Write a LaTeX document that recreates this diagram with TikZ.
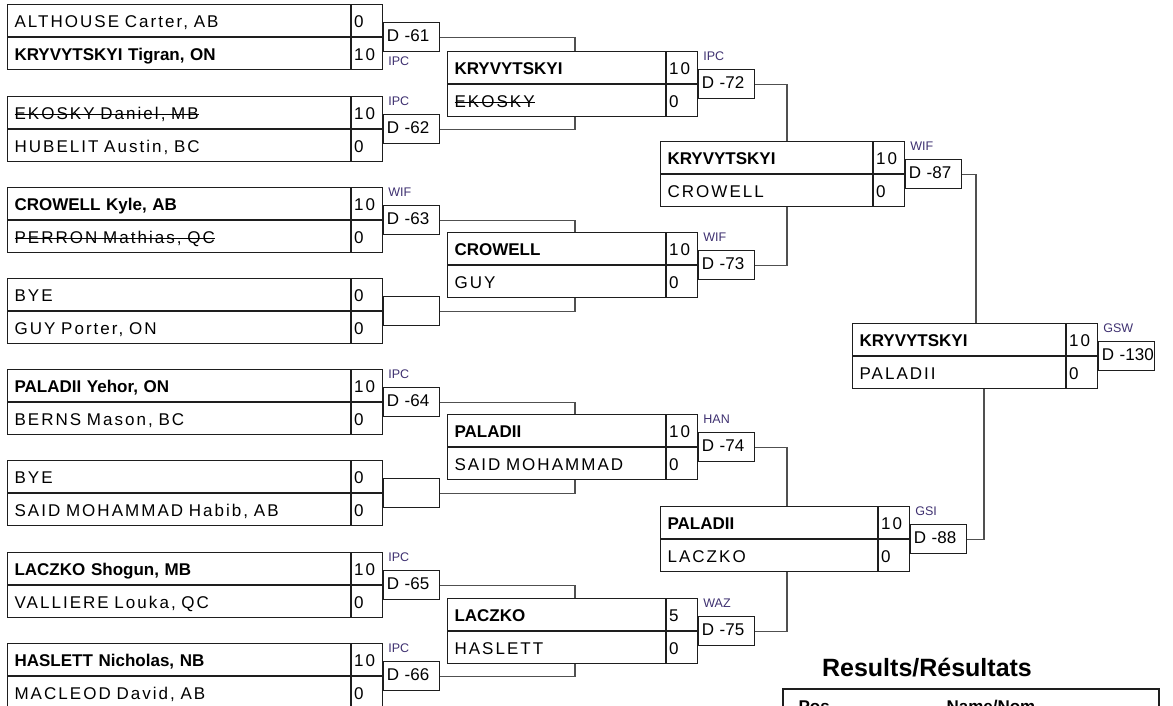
\documentclass[tikz,border=0pt]{standalone}
\usepackage{fontspec}
\setmainfont{Liberation Sans}
\newfontfamily\namefont[LetterSpace=12]{Liberation Sans}
\usetikzlibrary{positioning}
\definecolor{boxline}{RGB}{30,30,30}
\definecolor{wiregray}{RGB}{80,80,80}
\definecolor{methodc}{RGB}{62,48,112}
\newcommand{\win}[1]{{\normalfont\bfseries #1}}
\newsavebox{\strkbox}
\newcommand{\strk}[1]{\sbox{\strkbox}{#1}\rlap{\usebox{\strkbox}}\rule[4.6pt]{\wd\strkbox}{1.1pt}}

\begin{document}
\begin{tikzpicture}[
    x=1pt, y=-1pt,
    pname/.style={draw=boxline, line width=1.1pt, anchor=north west, minimum height=32pt,
        inner xsep=7pt, inner ysep=0pt, text height=15pt, text depth=1pt, align=left,
        font=\namefont\fontsize{17}{20}\selectfont},
    pscore/.style={pname, text width=26pt, inner xsep=2.5pt},
    dbox/.style={draw=boxline, line width=1.1pt, anchor=west, minimum height=29pt,
        text width=50pt, inner xsep=3pt, inner ysep=0pt, text height=12.5pt, text depth=3.5pt,
        align=left, font=\fontsize{17}{20}\selectfont},
    method/.style={inner sep=0pt, text depth=0pt, text=methodc, font=\fontsize{12.5}{14}\selectfont},
    wire/.style={draw=wiregray, line width=1.2pt}
]
    \useasboundingbox (0,0) rectangle (1173,705);
    \clip (0,0) rectangle (1173,705);

    % tableau: une case par combat (nom en haut / nom en bas)
    \foreach \id/\x/\y/\w/\ta/\sa/\tb/\sb in {
        61/7/4/329/{ALTHOUSE Carter, AB}/0/{\win{KRYVYTSKYI Tigran, ON}}/10,
        62/7/96/329/{\strk{EKOSKY Daniel, MB}}/10/{HUBELIT Austin, BC}/0,
        63/7/187/329/{\win{CROWELL Kyle, AB}}/10/{\strk{PERRON Mathias, QC}}/0,
        b1/7/278/329/{BYE}/0/{GUY Porter, ON}/0,
        64/7/369/329/{\win{PALADII Yehor, ON}}/10/{BERNS Mason, BC}/0,
        b2/7/460/329/{BYE}/0/{SAID MOHAMMAD Habib, AB}/0,
        65/7/552/329/{\win{LACZKO Shogun, MB}}/10/{VALLIERE Louka, QC}/0,
        66/7/643/329/{\win{HASLETT Nicholas, NB}}/10/{MACLEOD David, AB}/0,
        72/447/51/204/{\win{KRYVYTSKYI}}/10/{\strk{EKOSKY}}/0,
        73/447/232/204/{\win{CROWELL}}/10/{GUY}/0,
        74/447/414/204/{\win{PALADII}}/10/{SAID MOHAMMAD}/0,
        75/447/598/204/{\win{LACZKO}}/5/{HASLETT}/0,
        87/660/141/198/{\win{KRYVYTSKYI}}/10/{CROWELL}/0,
        88/660/506/203/{\win{PALADII}}/10/{LACZKO}/0,
        130/852/323/199/{\win{KRYVYTSKYI}}/10/{PALADII}/0}{
        \node[pname, text width=\w pt] (m\id t) at (\x,\y) {\ta};
        \node[pscore] (m\id ts) at (m\id t.north east) {\sa};
        \node[pname, text width=\w pt] (m\id b) at (m\id t.south west) {\tb};
        \node[pscore] (m\id bs) at (m\id b.north east) {\sb};
    }

    % numeros de combat et methode de victoire
    \node[dbox] (d61) at (m61ts.south east) {\mbox{D -61}};
    \node[method, below right=4pt and 5pt of d61.south west] (l61) {IPC};
    \foreach \id/\how in {62/IPC, 63/WIF, 64/IPC, 65/IPC, 66/IPC, 72/IPC, 73/WIF,
        74/HAN, 75/WAZ, 87/WIF, 88/GSI, 130/GSW}{
        \node[dbox] (d\id) at (m\id ts.south east) {\mbox{D -\id}};
        \node[method, above right=8pt and 5pt of d\id.north west] (l\id) {\how};
    }
    % BYE: crochet vide
    \foreach \id in {b1, b2}
        \node[dbox] (d\id) at (m\id ts.south east) {};

    % liaisons
    \draw[wire] (d61.east) -| ([xshift=128pt]m72t.north west);
    \draw[wire] (d62.east) -| ([xshift=128pt]m72b.south west);
    \draw[wire] (d63.east) -| ([xshift=128pt]m73t.north west);
    \draw[wire] (db1.east) -| ([xshift=128pt]m73b.south west);
    \draw[wire] (d64.east) -| ([xshift=128pt]m74t.north west);
    \draw[wire] (db2.east) -| ([xshift=128pt]m74b.south west);
    \draw[wire] (d65.east) -| ([xshift=128pt]m75t.north west);
    \draw[wire] (d66.east) -| ([xshift=128pt]m75b.south west);
    \draw[wire] (d72.east) -| ([xshift=127pt]m87t.north west);
    \draw[wire] (d73.east) -| ([xshift=127pt]m87b.south west);
    \draw[wire] (d74.east) -| ([xshift=127pt]m88t.north west);
    \draw[wire] (d75.east) -| ([xshift=127pt]m88b.south west);
    \draw[wire] (d87.east) -| ([xshift=124pt]m130t.north west);
    \draw[wire] (d88.east) -| ([xshift=132pt]m130b.south west);

    % resultats
    \node[anchor=base, font=\bfseries\fontsize{25}{30}\selectfont] (restitle) at (927,676) {Results/Résultats};
    \node[draw=boxline, line width=2pt, anchor=north west, minimum width=376pt, minimum height=60pt] (restab) at (782,688) {};
    \node[anchor=base west, font=\bfseries\fontsize{17}{20}\selectfont] (respos) at (795,712) {Pos};
    \node[anchor=base west, font=\bfseries\fontsize{17}{20}\selectfont] (resnom) at (943,712) {Name/Nom};
\end{tikzpicture}
\end{document}
